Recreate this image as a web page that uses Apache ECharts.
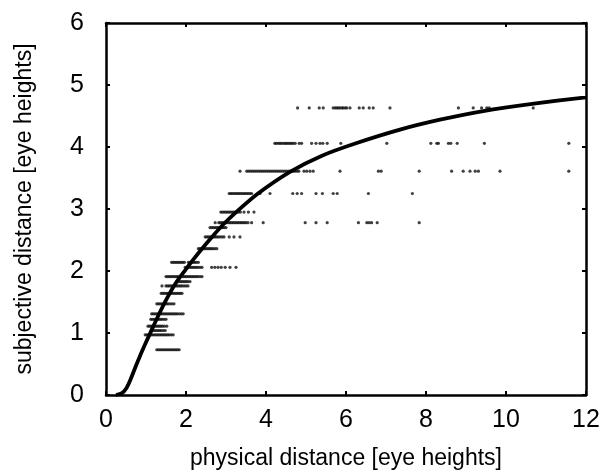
<!DOCTYPE html>
<html>
<head>
<meta charset="utf-8">
<script src="https://cdn.jsdelivr.net/npm/echarts@6/dist/echarts.min.js"></script>
<style>
    html, body {margin: 0; padding: 0; background: #fff;}
    #chart {width: 610px; height: 476px;}
</style>
</head>
<body>
<div id="chart"></div>
<script>
// response levels (subjective distance) and the physical distances judged at each
var rowY = [0.73, 0.97, 1.04, 1.11, 1.22, 1.31, 1.47, 1.64, 1.76, 1.83, 1.91, 2.06, 2.14,
    2.36, 2.55, 2.70, 2.78, 2.95, 3.25, 3.61, 4.06, 4.63];
var rowX = [
    [1.27, 1.31, 1.35, 1.39, 1.43, 1.47, 1.51, 1.55, 1.59, 1.63, 1.67, 1.71, 1.75, 1.79, 1.83],
    [0.98, 1.02, 1.06, 1.1, 1.14, 1.18, 1.22, 1.26, 1.3, 1.34, 1.38, 1.42, 1.46, 1.5, 1.54, 1.58, 1.63, 1.68],
    [1.14, 1.18, 1.22, 1.26, 1.3, 1.34, 1.38, 1.43, 1.48],
    [1.05, 1.09, 1.13, 1.17, 1.21, 1.25, 1.29, 1.33, 1.37, 1.41, 1.46, 1.52],
    [1.12, 1.16, 1.2, 1.24, 1.28, 1.32, 1.36, 1.4, 1.45, 1.5],
    [1.14, 1.18, 1.22, 1.26, 1.3, 1.34, 1.38, 1.42, 1.46, 1.5, 1.54, 1.58, 1.62, 1.66, 1.7, 1.74, 1.78, 1.83, 1.88, 1.93],
    [1.27, 1.31, 1.35, 1.39, 1.43, 1.47, 1.51, 1.55, 1.6, 1.65, 1.7],
    [1.38, 1.42, 1.46, 1.5, 1.54, 1.58, 1.62, 1.66, 1.7, 1.74, 1.78, 1.82, 1.86, 1.9],
    [1.4, 1.5, 1.54, 1.58, 1.62, 1.66, 1.7, 1.74, 1.78, 1.82, 1.86, 1.9, 1.95, 2.0, 2.05],
    [1.77, 1.81, 1.85, 1.89, 1.93, 1.97, 2.01, 2.05, 2.1],
    [1.5, 1.54, 1.58, 1.62, 1.66, 1.7, 1.74, 1.78, 1.82, 1.86, 1.9, 1.94, 1.98, 2.02, 2.06, 2.1, 2.14, 2.18, 2.22, 2.26, 2.3, 2.35, 2.4],
    [1.98, 2.02, 2.06, 2.1, 2.14, 2.18, 2.22, 2.26, 2.3, 2.35, 2.4, 2.64, 2.72, 2.8, 2.88, 2.98, 3.1, 3.25],
    [1.64, 1.68, 1.72, 1.76, 1.8, 1.84, 1.88, 1.92, 1.96, 2.06, 2.1, 2.14, 2.18, 2.22, 2.26, 2.31],
    [2.31, 2.35, 2.39, 2.43, 2.47, 2.51, 2.55, 2.59, 2.63, 2.67, 2.72, 2.77],
    [2.48, 2.52, 2.56, 2.6, 2.64, 2.68, 2.72, 2.76, 2.8, 2.85, 2.9, 2.95, 3.08, 3.2, 3.35],
    [2.6, 2.64, 2.68, 2.72, 2.76, 2.8, 2.84, 2.88, 2.92, 2.96, 3.0],
    [2.73, 2.82, 2.86, 2.9, 2.94, 2.98, 3.02, 3.06, 3.1, 3.14, 3.18, 3.22, 3.26, 3.3, 3.34, 3.38, 3.42, 3.46, 3.5, 3.55,
        3.64, 3.93, 4.98, 5.25, 5.53, 6.31, 6.52, 6.58, 6.64, 6.78, 7.83],
    [2.87, 2.91, 2.95, 2.99, 3.03, 3.07, 3.11, 3.15, 3.19, 3.23, 3.27, 3.31, 3.36, 3.45, 3.56, 3.7],
    [3.08, 3.12, 3.16, 3.2, 3.24, 3.28, 3.32, 3.36, 3.4, 3.44, 3.48, 3.52, 3.56, 3.6, 3.64,
        3.85, 4.1, 4.67, 4.78, 4.89, 5.25, 5.41, 5.68, 5.78, 6.56, 7.66],
    [3.35, 3.52, 3.57, 3.62, 3.67, 3.72, 3.77, 3.82, 3.87, 3.92, 3.97, 4.02, 4.07, 4.12, 4.17, 4.22, 4.27, 4.32,
        4.37, 4.42, 4.47, 4.52, 4.57, 4.62, 4.67, 4.72, 4.77, 4.82, 4.95, 5.02, 5.1, 5.18,
        5.85, 6.81, 6.88, 7.83, 8.64, 8.93, 9.1, 9.23, 9.31, 9.85, 11.57],
    [4.22, 4.26, 4.31, 4.35, 4.39, 4.44, 4.48, 4.52, 4.56, 4.6, 4.64, 4.68, 4.73, 4.83, 4.89, 5.14, 5.25, 5.35,
        5.42, 5.53, 5.87, 7.02, 8.12, 8.27, 8.31, 8.56, 8.62, 8.78, 9.46, 11.57],
    [4.79, 5.08, 5.33, 5.43, 5.68, 5.73, 5.77, 5.81, 5.85, 5.9, 5.93, 5.98, 6.02, 6.1, 6.33, 6.43, 6.58, 6.68,
        7.1, 8.81, 9.18, 9.39, 9.52, 9.58, 10.68]
];

// fitted curve
var curveX = [0.25, 0.4, 0.5, 0.6, 0.73, 0.85, 1.0, 1.1, 1.3, 1.5, 1.75, 2.0, 2.2, 2.4, 2.65, 2.93,
    3.22, 3.8, 4.6, 5.4, 6.25, 7.35, 8.35, 9.43, 10.7, 12];
var curveY = [0, 0.03, 0.1, 0.23, 0.44, 0.63, 0.85, 0.99, 1.27, 1.53, 1.81, 2.03, 2.2, 2.36, 2.55, 2.75,
    2.93, 3.25, 3.6, 3.86, 4.06, 4.28, 4.44, 4.58, 4.7, 4.8];

var xTicks = [0, 2, 4, 6, 8, 10, 12];
var yTicks = [0, 1, 2, 3, 4, 5, 6];

var dots = [];
for (var i = 0; i < rowY.length; ++i) {
    for (var j = 0; j < rowX[i].length; ++j) {
        dots.push([rowX[i][j], rowY[i]]);
    }
}
var curve = curveX.map(function (x, k) {
    return [x, curveY[k]];
});

var font = "'Liberation Sans', Arial, Helvetica, sans-serif";
var frame = {show: true, onZero: false, lineStyle: {color: "#000", width: 2.5}};
var tick = {show: true, inside: true, length: 4, lineStyle: {color: "#000", width: 2}};

var chart = echarts.init(document.getElementById("chart"));
chart.setOption({
    animation: false,
    backgroundColor: "#fff",
    grid: {left: 106, right: 24, top: 23, bottom: 81},
    xAxis: [{
        type: "value", min: 0, max: 12, interval: 2,
        position: "bottom",
        name: "physical distance [eye heights]",
        nameLocation: "middle", nameGap: 52,
        nameTextStyle: {fontFamily: font, fontSize: 23, color: "#000"},
        axisLine: frame, axisTick: tick, splitLine: {show: false},
        axisLabel: {
            margin: 13, fontFamily: font, fontSize: 25, color: "#000",
            formatter: function (v) {
                return xTicks.indexOf(v) >= 0 ? String(v) : "";
            }
        }
    }, {
        type: "value", min: 0, max: 12, interval: 2,
        position: "top",
        axisLine: frame, axisTick: tick, splitLine: {show: false},
        axisLabel: {show: false}
    }],
    yAxis: [{
        type: "value", min: 0, max: 6, interval: 1,
        position: "left",
        name: "subjective distance [eye heights]",
        nameLocation: "middle", nameGap: 70,
        nameTextStyle: {fontFamily: font, fontSize: 23, color: "#000"},
        axisLine: frame, axisTick: tick, splitLine: {show: false},
        axisLabel: {
            margin: 22, fontFamily: font, fontSize: 25, color: "#000",
            formatter: function (v) {
                return yTicks.indexOf(v) >= 0 ? String(v) : "";
            }
        }
    }, {
        type: "value", min: 0, max: 6, interval: 1,
        position: "right",
        axisLine: frame, axisTick: tick, splitLine: {show: false},
        axisLabel: {show: false}
    }],
    series: [{
        type: "scatter",
        data: dots,
        symbol: "circle",
        symbolSize: 3.2,
        itemStyle: {color: "#111"},
        z: 2
    }, {
        type: "line",
        data: curve,
        smooth: 0.3,
        showSymbol: false,
        lineStyle: {color: "#000", width: 3.8},
        z: 3
    }]
});
</script>
</body>
</html>
